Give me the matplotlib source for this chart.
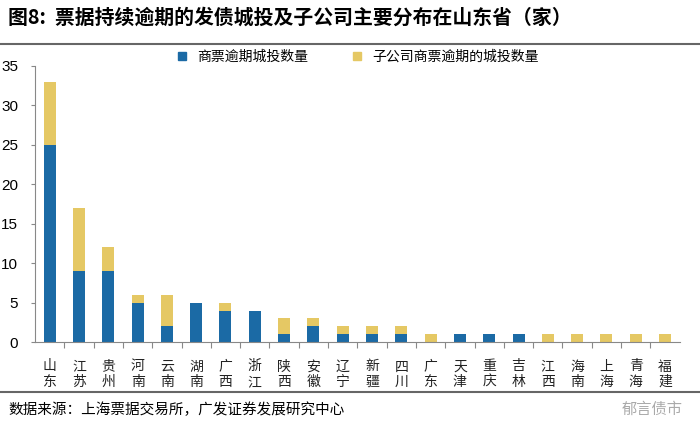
import matplotlib
matplotlib.use("Agg")
from matplotlib import pyplot as plt
from matplotlib.lines import Line2D

plt.rcParams['font.family'] = ['Noto Sans CJK SC', 'DejaVu Sans']

provinces = ["山东", "江苏", "贵州", "河南", "云南", "湖南", "广西", "浙江", "陕西", "安徽", "辽宁",
             "新疆", "四川", "广东", "天津", "重庆", "吉林", "江西", "海南", "上海", "青海", "福建"]
direct = [25, 9, 9, 5, 2, 5, 4, 4, 1, 2, 1, 1, 1, 0, 1, 1, 1, 0, 0, 0, 0, 0]
subsid = [8, 8, 3, 1, 4, 0, 1, 0, 2, 1, 1, 1, 1, 1, 0, 0, 0, 1, 1, 1, 1, 1]
yticks = [0, 5, 10, 15, 20, 25, 30, 35]

blue = "#1B6AA5"
gold = "#E5C864"

fig = plt.figure(figsize=(7, 4.42), dpi=100)
ax = fig.add_axes([0.05, 0.226, 0.921, 0.625])

x = range(len(provinces))
ax.bar(x, direct, width=0.41, color=blue, label="商票逾期城投数量")
ax.bar(x, subsid, width=0.41, bottom=direct, color=gold, label="子公司商票逾期的城投数量")

ax.set_xlim(-0.5, len(provinces) - 0.5)
ax.set_ylim(0, 35)
ax.set_yticks(yticks)
ax.set_yticklabels([str(v) for v in yticks], fontsize=11, family="Liberation Sans")
# category separators on the x axis
ax.set_xticks([i + 0.5 for i in range(len(provinces) - 1)])
ax.set_xticklabels([])
ax.tick_params(axis="x", length=4, color="#888888", direction="out")
ax.tick_params(axis="y", length=3, color="#888888", direction="out", pad=9)
for i, p in enumerate(provinces):
    ax.text(i, -2.2, p[0] + "\n" + p[1], ha="center", va="top", fontsize=10,
            linespacing=1.15, color="#222222")
for s in ["top", "right"]:
    ax.spines[s].set_visible(False)
ax.spines["left"].set_color("#888888")
ax.spines["bottom"].set_color("#888888")

handles = [Line2D([], [], marker="s", color=blue, linestyle="none", markersize=6),
           Line2D([], [], marker="s", color=gold, linestyle="none", markersize=6)]
fig.legend(handles, ["商票逾期城投数量", "子公司商票逾期的城投数量"], loc="center",
           bbox_to_anchor=(0.505, 0.871), ncol=2, frameon=False, fontsize=10,
           handletextpad=0.1, columnspacing=2.5)

fig.text(0.012, 0.962, "图8:  票据持续逾期的发债城投及子公司主要分布在山东省（家）",
         fontsize=14.3, fontweight="bold", va="center")
fig.add_artist(Line2D([0, 1], [0.9, 0.9], color="#666666", lw=1.5))
fig.add_artist(Line2D([0, 1], [0.113, 0.113], color="#666666", lw=1.5))
fig.text(0.012, 0.073, "数据来源：上海票据交易所，广发证券发展研究中心", fontsize=10.5, va="center")
fig.text(0.975, 0.073, "郁言债市", fontsize=11, va="center", ha="right", color="#aaaaaa")

fig.savefig("out.png", dpi=100)
